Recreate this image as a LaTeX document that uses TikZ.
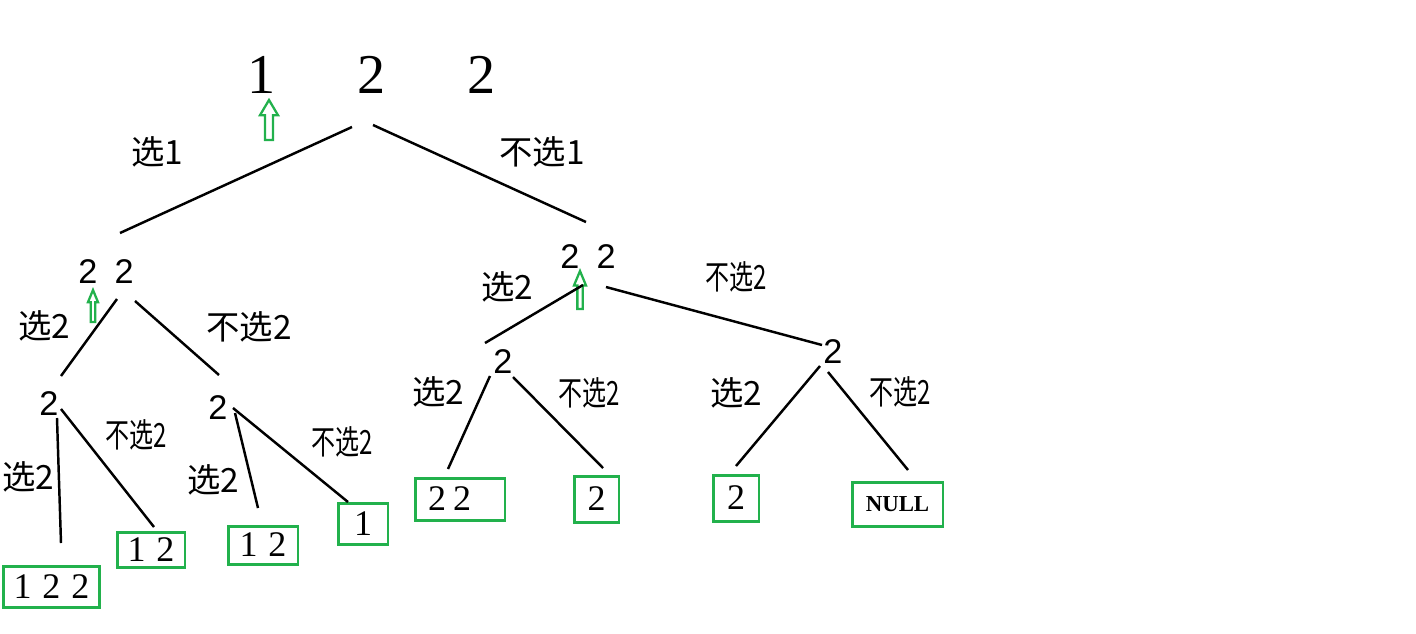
\documentclass[tikz,border=0pt]{standalone}
\usepackage{fontspec}
\setmainfont{Liberation Serif}
\newfontfamily\cjk{Noto Sans CJK SC}
\newfontfamily\cjknarrow[FakeStretch=0.72]{Noto Sans CJK SC}
\newfontfamily\digits{Liberation Sans}
\definecolor{paintgreen}{RGB}{34,177,76}

\begin{document}
\begin{tikzpicture}[x=0.02cm, y=-0.02cm,
    branch/.style={line width=1.4pt},
    topnum/.style={font=\fontsize{32}{36}\selectfont, inner sep=0pt},
    num/.style={font=\digits\fontsize{19.5}{22}\selectfont, inner sep=0pt},
    pick/.style={font=\cjk\fontsize{19}{22}\selectfont, inner sep=0pt},
    notpick/.style={font=\cjknarrow\fontsize{19}{22}\selectfont, inner sep=0pt},
    leaf/.style={draw=paintgreen, line width=1.7pt, font=\fontsize{20.5}{24}\selectfont, inner sep=0pt},
    hint/.style={draw=paintgreen, line width=1.3pt, line join=miter},
    uparr/.pic={\draw[hint] (0,0) -- (0.5,0.38) -- (0.22,0.38) -- (0.22,1) -- (-0.22,1) -- (-0.22,0.38) -- (-0.5,0.38) -- cycle;}]
    \useasboundingbox (0,0) rectangle (1416,633);

    % sequence and pointers
    \node[topnum] (t1) at (262,75) {1};
    \node[topnum] (t2) at (372,75) {2};
    \node[topnum] (t3) at (482,75) {2};
    \pic[xscale=18, yscale=40] at (269,100) {uparr};
    \pic[xscale=10, yscale=32] at (93,290) {uparr};
    \pic[xscale=12, yscale=38] at (580,271) {uparr};

    % inner states
    \node[num] (l) at (106,272) {2\hspace{0.5em}2};
    \node[num] (r) at (588,257) {2\hspace{0.5em}2};
    \node[num] (ll) at (49,404) {2};
    \node[num] (lr) at (218,408) {2};
    \node[num] (rl) at (503,362) {2};
    \node[num] (rr) at (833,352) {2};

    % results
    \node[leaf, minimum width=1.94cm, minimum height=0.82cm] (b1) at (51.5,586.5) {1\hspace{0.3em}2\hspace{0.3em}2};
    \node[leaf, minimum width=1.36cm, minimum height=0.70cm] (b2) at (151,549.5) {1\hspace{0.3em}2};
    \node[leaf, minimum width=1.40cm, minimum height=0.76cm] (b3) at (263,545) {1\hspace{0.3em}2};
    \node[leaf, minimum width=1.00cm, minimum height=0.82cm] (b4) at (363,523.5) {1};
    \node[leaf, minimum width=1.80cm, minimum height=0.84cm, text width=1.28cm, inner xsep=0.26cm, align=left] (b5) at (460,499) {2\hspace{0.2em}2};
    \node[leaf, minimum width=0.90cm, minimum height=0.92cm] (b6) at (596.5,499) {2};
    \node[leaf, minimum width=0.92cm, minimum height=0.92cm] (b7) at (736,498) {2};
    \node[leaf, minimum width=1.82cm, minimum height=0.88cm, font=\bfseries\fontsize{13}{15}\selectfont] (b8) at (897.5,504) {NULL};

    % choice labels
    \node[pick] (p1) at (157,152) {选1};
    \node[pick] (n1) at (542,152) {不选1};
    \node[pick] (p2l) at (44,326) {选2};
    \node[pick] (n2l) at (249,327) {不选2};
    \node[pick] (p2r) at (507,287) {选2};
    \node[notpick] (n2r) at (736,277) {不选2};
    \node[pick] (p3a) at (28,477) {选2};
    \node[notpick] (n3a) at (136,435) {不选2};
    \node[pick] (p3b) at (213,480) {选2};
    \node[notpick] (n3b) at (342,442) {不选2};
    \node[pick] (p3c) at (438,392) {选2};
    \node[notpick] (n3c) at (589,393) {不选2};
    \node[pick] (p3d) at (736,393) {选2};
    \node[notpick] (n3d) at (900,392) {不选2};

    % branch ends
    \coordinate (s1) at (352,127);  \coordinate (e1) at (120,233);
    \coordinate (s2) at (373,125);  \coordinate (e2) at (586,222);
    \coordinate (s3) at (117,299);  \coordinate (e3) at (61,376);
    \coordinate (s4) at (135,301);  \coordinate (e4) at (219,375);
    \coordinate (s5) at (57,418);   \coordinate (e5) at (61,543);
    \coordinate (s6) at (61,409);   \coordinate (e6) at (154,527);
    \coordinate (s7) at (235,413);  \coordinate (e7) at (258,508);
    \coordinate (s8) at (233,408);  \coordinate (e8) at (348,502);
    \coordinate (s9) at (583,285);  \coordinate (e9) at (485,343);
    \coordinate (s10) at (606,287); \coordinate (e10) at (822,345);
    \coordinate (s11) at (490,376); \coordinate (e11) at (448,469);
    \coordinate (s12) at (513,377); \coordinate (e12) at (603,468);
    \coordinate (s13) at (820,366); \coordinate (e13) at (736,466);
    \coordinate (s14) at (828,372); \coordinate (e14) at (908,470);

    \draw[branch] (s1) -- (e1);
    \draw[branch] (s2) -- (e2);
    \draw[branch] (s3) -- (e3);
    \draw[branch] (s4) -- (e4);
    \draw[branch] (s5) -- (e5);
    \draw[branch] (s6) -- (e6);
    \draw[branch] (s7) -- (e7);
    \draw[branch] (s8) -- (e8);
    \draw[branch] (s9) -- (e9);
    \draw[branch] (s10) -- (e10);
    \draw[branch] (s11) -- (e11);
    \draw[branch] (s12) -- (e12);
    \draw[branch] (s13) -- (e13);
    \draw[branch] (s14) -- (e14);
\end{tikzpicture}
\end{document}
